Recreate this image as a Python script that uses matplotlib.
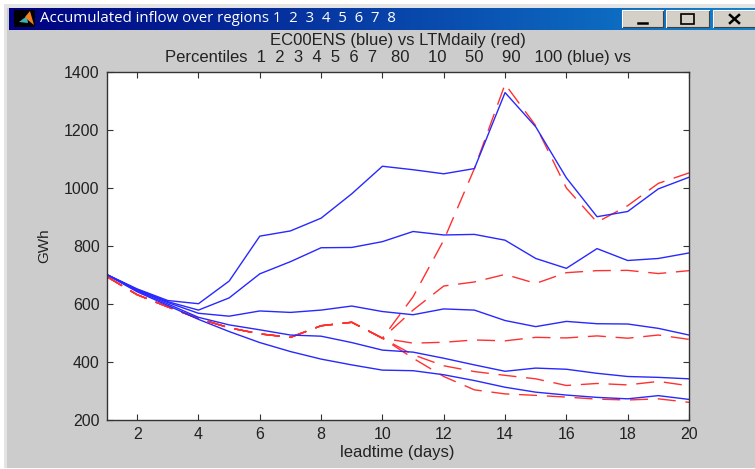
import numpy as np
import matplotlib
matplotlib.use("Agg")
import matplotlib.pyplot as plt
from matplotlib.patches import Rectangle, Polygon

W, H = 755, 469

plt.rcParams['font.family'] = ['Liberation Sans', 'DejaVu Sans']

days = list(range(1, 21))
xTicks = list(range(2, 21, 2))
yTicks = list(range(200, 1401, 200))

windowTitle = "Accumulated inflow over regions 1  2  3  4  5  6  7  8"
chartTitle = "EC00ENS (blue) vs LTMdaily (red)\nPercentiles  1  2  3  4  5  6  7   80    10    50    90   100 (blue) vs"

# Ensemble percentiles (blue), GWh
blue1 = [702, 642, 595, 547, 505, 467, 436, 410, 390, 372, 370, 356, 336, 313, 296, 286, 278, 273, 284, 271]
blue2 = [702, 645, 600, 554, 528, 511, 493, 489, 467, 441, 434, 413, 390, 368, 379, 375, 361, 350, 347, 342]
blue3 = [702, 648, 605, 568, 558, 576, 571, 579, 593, 574, 563, 583, 579, 543, 522, 540, 532, 531, 516, 493]
blue4 = [702, 650, 608, 579, 621, 704, 746, 794, 795, 815, 850, 838, 840, 820, 757, 723, 791, 750, 757, 776]
blue5 = [702, 652, 612, 601, 679, 834, 852, 896, 980, 1075, 1063, 1049, 1067, 1329, 1211, 1035, 901, 919, 997, 1037]

# LTMdaily percentiles (red), GWh
red1 = [695, 632, 590, 550, 518, 497, 485, 525, 537, 482, 413, 350, 304, 290, 285, 279, 272, 269, 273, 261]
red2 = [695, 632, 590, 550, 518, 497, 485, 525, 537, 482, 425, 387, 367, 354, 342, 319, 326, 321, 333, 318]
red3 = [695, 632, 590, 550, 518, 497, 485, 525, 537, 482, 465, 468, 476, 473, 485, 483, 490, 482, 493, 478]
red4 = [695, 632, 590, 550, 518, 497, 485, 525, 537, 482, 579, 662, 676, 702, 671, 708, 715, 716, 705, 715]
red5 = [695, 632, 590, 550, 518, 497, 485, 525, 537, 482, 625, 820, 1067, 1358, 1215, 1000, 882, 939, 1016, 1052]

blueSeries = [blue1, blue2, blue3, blue4, blue5]
redSeries = [red1, red2, red3, red4, red5]

fig = plt.figure(figsize=(W / 100, H / 100), dpi=100, facecolor="white")

# Window chrome, drawn in pixel coordinates
chrome = fig.add_axes([0, 0, 1, 1], zorder=0)
chrome.axis("off")
chrome.add_patch(Rectangle((4, 4), W, H - 5, facecolor="#e4e4e4", edgecolor="none"))
chrome.add_patch(Rectangle((7, 8), W, H - 9, facecolor="#cccccc", edgecolor="none"))

gradient = np.linspace(0, 1, 256).reshape(1, -1, 1)
start = np.array([0, 0, 128]) / 255
end = np.array([16, 132, 208]) / 255
chrome.imshow(start + gradient * (end - start), extent=(9, 755, 30, 8), aspect="auto", zorder=1)
chrome.set_xlim(0, W)
chrome.set_ylim(H, 0)

# MATLAB icon
chrome.add_patch(Rectangle((14, 10), 21, 17, facecolor="black", edgecolor="none", zorder=2))
chrome.add_patch(Polygon([(19, 22), (27, 16), (28, 23)], facecolor="#40b0b8", edgecolor="none", zorder=3))
chrome.add_patch(Polygon([(25, 17), (30, 11), (34, 25), (29, 21)], facecolor="#f08020", edgecolor="none", zorder=3))

chrome.text(40, 19, windowTitle, color="white", fontsize=10.8, va="center", ha="left",
            family=["Open Sans", "DejaVu Sans"], zorder=3)

# Minimise, maximise and close buttons
for left, right in [(622, 663), (666, 709), (713, 756)]:
    chrome.add_patch(Rectangle((left, 10), right - left, 17, facecolor="#d4d0c8", edgecolor="#404040",
                               linewidth=0.8, zorder=2))
    chrome.plot([left, left, right], [27, 10, 10], color="white", linewidth=0.8, zorder=3)
chrome.plot([638, 647], [23, 23], color="black", linewidth=1.8, zorder=4)
chrome.add_patch(Rectangle((681, 14), 13, 10, facecolor="none", edgecolor="black", linewidth=1.2, zorder=4))
chrome.plot([730, 739], [15, 23], color="black", linewidth=1.8, zorder=4)
chrome.plot([730, 739], [23, 15], color="black", linewidth=1.8, zorder=4)

# Plot area
left, right, top, bottom = 106.5, 689, 72, 420
ax = fig.add_axes([left / W, 1 - bottom / H, (right - left) / W, (bottom - top) / H], zorder=1)

for series in redSeries:
    ax.plot(days, series, color="#ff3030", linewidth=1, linestyle=(0, (13, 7)))
for series in blueSeries:
    ax.plot(days, series, color="#2828ff", linewidth=1)

ax.set_xlim(1, 20)
ax.set_ylim(200, 1400)
ax.set_xticks(xTicks)
ax.set_yticks(yTicks)
ax.tick_params(direction="in", top=True, right=True, length=4, width=0.8, labelsize=11.5,
               color="#333333", labelcolor="#222222", pad=5)
for spine in ax.spines.values():
    spine.set_linewidth(1)
    spine.set_color("#333333")

ax.set_xlabel("leadtime (days)", fontsize=12, color="#222222", labelpad=2)
ax.set_ylabel("GWh", fontsize=11, color="#222222", labelpad=9)
ax.set_title(chartTitle, fontsize=12, color="#222222", pad=7, linespacing=1.15)

fig.savefig("out.png", dpi=100, facecolor=fig.get_facecolor())
